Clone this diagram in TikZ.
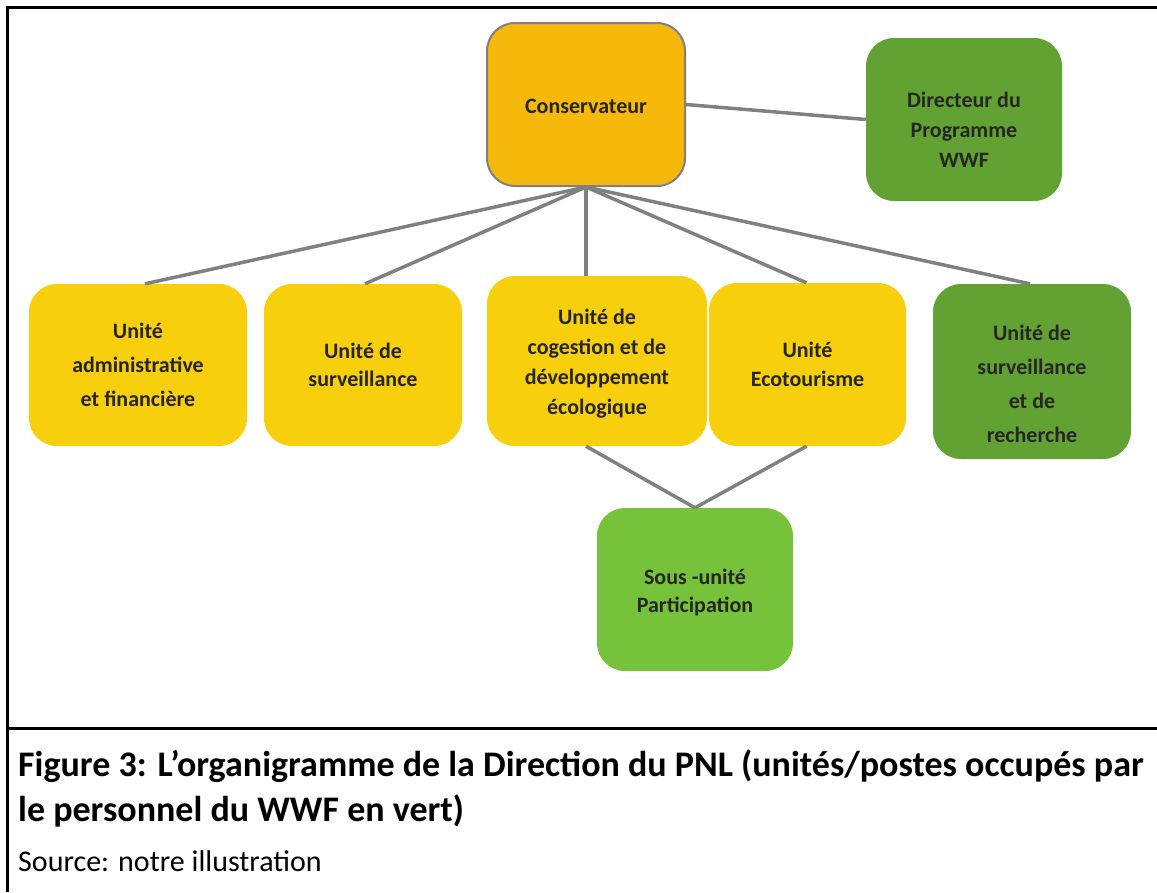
\documentclass[tikz,border=0pt]{standalone}
\usepackage{fontspec}
\setmainfont{Carlito}
\definecolor{gold}{HTML}{F7B80C}
\definecolor{yel}{HTML}{F8CF0D}
\definecolor{dgreen}{HTML}{62A233}
\definecolor{lgreen}{HTML}{77C23B}
\definecolor{lin}{HTML}{808080}
\definecolor{txt}{HTML}{262626}
\newcommand{\bfs}[1]{\fontsize{22}{#1}\selectfont\bfseries}
\begin{document}
\begin{tikzpicture}[x=1pt,y=-1pt,
  box/.style={rounded corners=28pt, inner sep=0pt, align=center, text=txt,
    font=\bfs{34}},
  lab/.style={align=center, text=txt, inner sep=0pt},
  conn/.style={draw=lin, line width=3.5pt},
  frame/.style={draw=black, line width=3pt},
  captxt/.style={anchor=base west, inner sep=0pt, text=black}]
\useasboundingbox (0,0) rectangle (1157,892);
\draw[frame] (7,892) -- (7,7) -- (1157,7);
\draw[frame] (7,728) -- (1157,728);

\node[box, fill=gold, draw=lin, line width=2pt, minimum width=198pt, minimum height=163pt,
  label={[lab, font=\bfs{34}, yshift=-2pt]center:Conservateur}] (cons) at (586,104.5) {};
\node[box, fill=dgreen, minimum width=196pt, minimum height=163pt,
  label={[lab, font=\bfs{30}, yshift=-10.5pt]center:{Directeur du\\Programme\\WWF}}] (dir) at (964,119.5) {};
\node[box, fill=yel, minimum width=218pt, minimum height=162pt] (adm) at (138,365) {Unité\\administrative\\et financière};
\node[box, fill=yel, minimum width=198pt, minimum height=162pt, font=\bfs{28}] (surv) at (363,365) {Unité de\\surveillance};
\node[box, fill=yel, minimum width=220pt, minimum height=170pt,
  label={[lab, font=\bfs{30}, yshift=-3pt]center:{Unité de\\cogestion et de\\développement\\écologique}}] (cog) at (597,361) {};
\node[box, fill=yel, minimum width=197pt, minimum height=163pt, font=\bfs{29}] (eco) at (807.5,364.5) {Unité\\Ecotourisme};
\node[box, fill=dgreen, minimum width=198pt, minimum height=175pt,
  label={[lab, font=\bfs{34}, yshift=-12pt]center:{Unité de\\surveillance\\et de\\recherche}}] (rech) at (1032,371.5) {};
\node[box, fill=lgreen, minimum width=196pt, minimum height=163pt,
  label={[lab, font=\bfs{28}, yshift=-3pt]center:{Sous -unité\\Participation}}] (sous) at (695,589.5) {};

\draw[conn] (cons.east) -- (dir.west);
\draw[conn] (cons.south) -- ([xshift=7pt]adm.north);
\draw[conn] (cons.south) -- ([xshift=2pt]surv.north);
\draw[conn] (cons.south) -- (cons.south |- cog.north);
\draw[conn] (cons.south) -- ([xshift=-1pt]eco.north);
\draw[conn] (cons.south) -- ([xshift=-2pt]rech.north);
\draw[conn] (cons.south |- cog.south) -- (sous.north);
\draw[conn] ([xshift=-1pt]eco.south) -- (sous.north);

\node[captxt, font=\fontsize{36}{44}\selectfont\bfseries] (cap1) at (18,776)
  {Figure 3: L’organigramme de la Direction du PNL (unités/postes occupés par};
\node[captxt, font=\fontsize{36}{44}\selectfont\bfseries] (cap2) at (18,821)
  {le personnel du WWF en vert)};
\node[captxt, font=\fontsize{30}{34}\selectfont] (src) at (18,871) {Source: notre illustration};
\end{tikzpicture}
\end{document}
